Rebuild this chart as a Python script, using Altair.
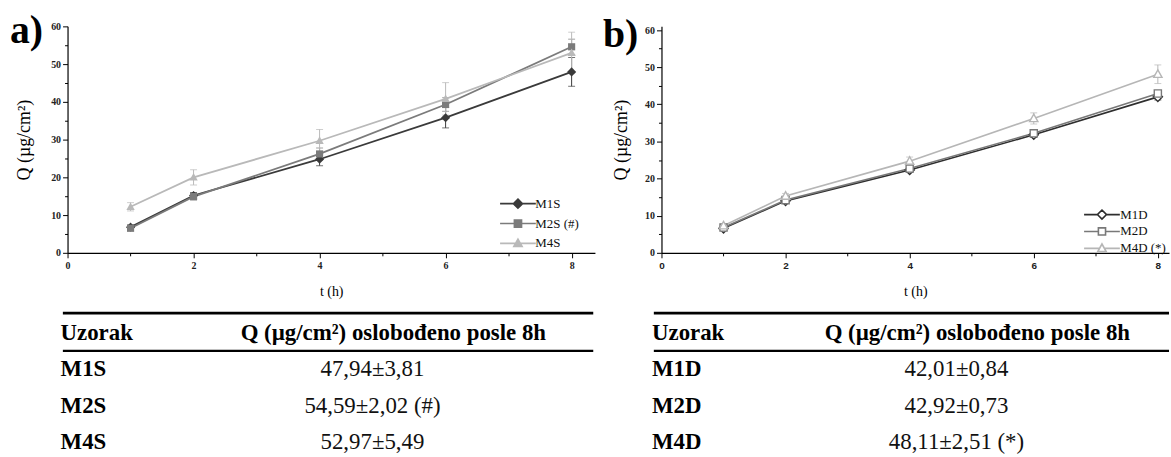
import altair as alt
import pandas as pd

# ---------------- data ----------------
t_hours = [1, 2, 4, 6, 8]

a_series = ["M1S", "M2S (#)", "M4S"]
a_M1S = [6.8, 15.2, 24.8, 35.8, 47.94]
a_M2S = [6.5, 14.9, 26.2, 39.3, 54.59]
a_M4S = [12.2, 20.0, 29.7, 40.8, 52.97]
a_M1S_sd = [0.6, 0.8, 1.7, 2.7, 3.81]
a_M2S_sd = [0.5, 0.9, 1.6, 1.8, 2.02]
a_M4S_sd = [1.1, 2.0, 3.0, 4.3, 5.49]

b_series = ["M1D", "M2D", "M4D (*)"]
b_M1D = [6.6, 14.0, 22.3, 31.8, 42.01]
b_M2D = [6.8, 14.2, 22.7, 32.2, 42.92]
b_M4D = [7.3, 15.3, 24.7, 36.2, 48.11]
b_M1D_sd = [0.4, 0.5, 0.6, 0.7, 0.84]
b_M2D_sd = [0.3, 0.5, 0.6, 0.6, 0.73]
b_M4D_sd = [0.4, 0.7, 1.1, 1.5, 2.51]

x_ticks = [0, 1, 2, 3, 4, 5, 6, 7, 8]
y_ticks = [0, 5, 10, 15, 20, 25, 30, 35, 40, 45, 50, 55, 60]

table_header = ["Uzorak", "Q (µg/cm²) oslobođeno posle 8h"]
a_table_names = ["M1S", "M2S", "M4S"]
a_table_values = ["47,94±3,81", "54,59±2,02 (#)", "52,97±5,49"]
b_table_names = ["M1D", "M2D", "M4D"]
b_table_values = ["42,01±0,84", "42,92±0,73", "48,11±2,51 (*)"]

# ---------------- styles ----------------
SERIF = "Liberation Serif"
SANS = "Liberation Sans"
a_colors = ["#3a3a3a", "#7b7b7b", "#b9b9b9"]
b_colors = ["#2e2e2e", "#787878", "#b6b6b6"]

marker_paths = [
    "M0,-1.15L1.15,0L0,1.15L-1.15,0Z",
    "M-0.9,-0.9H0.9V0.9H-0.9Z",
    "M0,-1.1L1.05,0.8L-1.05,0.8Z",
]
legend_paths = [
    "M-4.5,0H-1.15M1.15,0H4.5M0,-1.15L1.15,0L0,1.15L-1.15,0Z",
    "M-4.5,0H-0.9M0.9,0H4.5M-0.9,-0.9H0.9V0.9H-0.9Z",
    "M-4.5,0H-0.6M0.6,0H4.5M0,-1.1L1.05,0.8L-1.05,0.8Z",
]


def panel(series, values, sds, colors, filled, x_max, width, y_max, height,
          label, title_dx, legend_x, legend_y, row_pad, label_offset,
          x_label_font, y_title_pad):
    rows = []
    for s, v, sd in zip(series, values, sds):
        for t, q, e in zip(t_hours, v, sd):
            rows.append({"t": t, "Q": q, "lo": q - e, "hi": q + e, "series": s})
    df = pd.DataFrame(rows)

    x_axis = alt.Axis(
        values=x_ticks,
        labelExpr="datum.value % 2 === 0 ? datum.label : ''",
        tickSize={"condition": {"test": "datum.value % 2 === 0", "value": 5}, "value": 3},
        grid=False, domainColor="black", domainWidth=1.2, tickColor="black",
        tickWidth=1, labelFont=x_label_font, labelFontSize=10, labelFontWeight="bold",
        labelColor="#222", labelPadding=3, labelFlush=False, labelOverlap=False,
        titleFont=SERIF, titleFontSize=14, titleFontWeight="normal",
        titleColor="black", titlePadding=14,
    )
    y_axis = alt.Axis(
        values=y_ticks,
        labelExpr="datum.value % 10 === 0 ? datum.label : ''",
        tickSize={"condition": {"test": "datum.value % 10 === 0", "value": 5}, "value": 3},
        grid=False, domainColor="black", domainWidth=1.2, tickColor="black",
        tickWidth=1, labelFont=SERIF, labelFontSize=10, labelFontWeight="bold",
        labelColor="#222", labelPadding=2, labelFlush=False, labelOverlap=False,
        titleFont=SERIF, titleFontSize=18, titleFontWeight="normal",
        titleColor="black", titlePadding=y_title_pad,
    )
    xs = alt.Scale(domain=[0, x_max], nice=False, zero=True)
    ys = alt.Scale(domain=[0, y_max], nice=False, zero=True)

    def X():
        return alt.X("t:Q", scale=xs, axis=x_axis, title="t (h)")

    def Y(field):
        return alt.Y(f"{field}:Q", scale=ys, axis=y_axis, title="Q (µg/cm²)")

    base = alt.Chart(df)
    layers = []
    for s, c, path in zip(series, colors, marker_paths):
        sub = base.transform_filter(alt.datum.series == s)
        col = alt.value(c)
        layers.append(sub.mark_rule(strokeWidth=1).encode(
            x=X(), y=Y("lo"), y2="hi:Q", color=col))
        layers.append(sub.mark_tick(orient="horizontal", size=7, thickness=1).encode(
            x=X(), y=Y("lo"), color=col))
        layers.append(sub.mark_tick(orient="horizontal", size=7, thickness=1).encode(
            x=X(), y=Y("hi"), color=col))
    for s, c, path in zip(series, colors, marker_paths):
        sub = base.transform_filter(alt.datum.series == s)
        col = alt.value(c)
        layers.append(sub.mark_line(strokeWidth=1.8 if filled else 1.6).encode(
            x=X(), y=Y("Q"), color=col, order="t:Q"))
    for s, c, path in zip(series, colors, marker_paths):
        sub = base.transform_filter(alt.datum.series == s)
        col = alt.value(c)
        if filled:
            m = sub.mark_point(filled=True, shape=path, size=64, opacity=1)
        else:
            m = sub.mark_point(filled=False, fill="white", shape=path, size=64,
                               opacity=1, strokeWidth=1.4)
        layers.append(m.encode(x=X(), y=Y("Q"), color=col))

    leg = alt.Legend(
        orient="none", legendX=legend_x, legendY=legend_y, title=None,
        labelFont=SERIF, labelFontSize=13, labelColor="#111",
        symbolSize=64, symbolStrokeWidth=1.6, labelOffset=label_offset,
        rowPadding=row_pad, padding=0, symbolOpacity=1,
    )
    lscale_shape = alt.Scale(domain=series, range=legend_paths)
    lscale_col = alt.Scale(domain=series, range=colors)
    lbase = alt.Chart(df).transform_filter("false")
    if filled:
        lg = lbase.mark_point(filled=True, size=64, opacity=1, strokeWidth=1.6).encode(
            x=X(), y=Y("Q"),
            shape=alt.Shape("series:N", scale=lscale_shape, legend=leg),
            stroke=alt.Stroke("series:N", scale=lscale_col, legend=leg),
            fill=alt.Fill("series:N", scale=lscale_col, legend=leg),
        )
    else:
        lg = lbase.mark_point(filled=False, fill="white", size=64, opacity=1,
                              strokeWidth=1.6).encode(
            x=X(), y=Y("Q"),
            shape=alt.Shape("series:N", scale=lscale_shape, legend=leg),
            stroke=alt.Stroke("series:N", scale=lscale_col, legend=leg),
        )
    layers.append(lg)

    title = alt.Title(label, anchor="start", font=SERIF, fontSize=40,
                      fontWeight="bold", color="black", dx=title_dx, offset=-62,
                      baseline="alphabetic")
    return alt.layer(*layers).properties(width=width, height=height, title=title)


def table(names, values, width, name_x, header_x, value_x, rule_x1, rule_x2):
    rows = ["h"] + names
    df = pd.DataFrame({
        "row": rows,
        "c1": [table_header[0]] + names,
        "c2": [table_header[1]] + values,
        "hdr": [True] + [False] * len(names),
    })
    y = alt.Y("row:N", scale=alt.Scale(type="point", domain=rows, padding=0.2466), axis=None)
    base = alt.Chart(df)
    c1 = base.mark_text(align="left", baseline="middle", font=SERIF, fontSize=23,
                        fontWeight="bold", color="black").encode(
        x=alt.value(name_x), y=y, text="c1:N")
    hdr = base.transform_filter("datum.hdr").mark_text(
        align="center", baseline="middle", font=SERIF, fontSize=23,
        fontWeight="bold", color="black").encode(x=alt.value(header_x), y=y, text="c2:N")
    val = base.transform_filter("!datum.hdr").mark_text(
        align="center", baseline="middle", font=SERIF, fontSize=23,
        color="#111").encode(x=alt.value(value_x), y=y, text="c2:N")
    r1 = base.transform_filter("datum.hdr").mark_rule(strokeWidth=2.6, color="black").encode(
        x=alt.value(rule_x1), x2=alt.value(rule_x2), y=alt.value(-11.3))
    r2 = base.transform_filter("datum.hdr").mark_rule(strokeWidth=2.2, color="black").encode(
        x=alt.value(rule_x1), x2=alt.value(rule_x2), y=alt.value(26.7))
    return alt.layer(r1, r2, c1, hdr, val).properties(width=width, height=127.5)


plot_a = panel(a_series, [a_M1S, a_M2S, a_M4S], [a_M1S_sd, a_M2S_sd, a_M4S_sd],
               a_colors, True, 8.37, 531, 60, 228, "a)", -6, 447, 172, 4, 11,
               SERIF, 17)
plot_b = panel(b_series, [b_M1D, b_M2D, b_M4D], [b_M1D_sd, b_M2D_sd, b_M4D_sd],
               b_colors, False, 8.18, 511, 61, 228, "b)", -10, 437, 183, 1, 12,
               SANS, 14)
table_a = table(a_table_names, a_table_values, 531, -7, 328, 307, -4.7, 529.3)
table_b = table(b_table_names, b_table_values, 511, -9.5, 318, 297, -7.7, 511)

chart = alt.concat(plot_a, plot_b, table_a, table_b, columns=2,
                   spacing={"row": 13, "column": 8}, align="each").resolve_scale(
    shape="independent", stroke="independent", fill="independent",
    x="independent", y="independent",
).resolve_legend(
    shape="independent", stroke="independent", fill="independent",
).properties(
    padding={"left": 10, "top": 10, "right": 0, "bottom": 0},
    background="white",
).configure_view(stroke=None)

chart.save("out.html", embed_options={"renderer": "svg", "actions": False})
